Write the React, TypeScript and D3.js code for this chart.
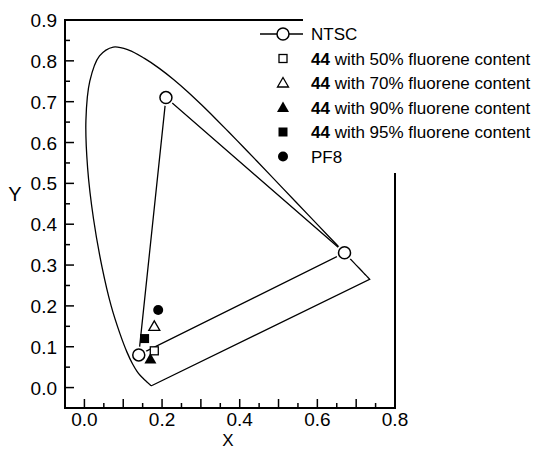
import React, { useEffect } from 'react';
import * as d3 from 'd3';

// CIE 1931 spectral locus, 380-700 nm
const locusX = [0.1741, 0.1740, 0.1738, 0.1736, 0.1733, 0.1730, 0.1726, 0.1721, 0.1714, 0.1703, 0.1689, 0.1669, 0.1644, 0.1611, 0.1566, 0.1510, 0.1440, 0.1355, 0.1241, 0.1096, 0.0913, 0.0687, 0.0454, 0.0235, 0.0082, 0.0039, 0.0139, 0.0389, 0.0743, 0.1142, 0.1547, 0.1929, 0.2296, 0.2658, 0.3016, 0.3373, 0.3731, 0.4087, 0.4441, 0.4788, 0.5125, 0.5448, 0.5752, 0.6029, 0.6270, 0.6482, 0.6658, 0.6801, 0.6915, 0.7006, 0.7079, 0.7140, 0.7190, 0.7230, 0.7260, 0.7283, 0.7300, 0.7311, 0.7320, 0.7327, 0.7334, 0.7347];
const locusY = [0.0050, 0.0050, 0.0049, 0.0049, 0.0048, 0.0048, 0.0048, 0.0048, 0.0051, 0.0058, 0.0069, 0.0086, 0.0109, 0.0138, 0.0177, 0.0227, 0.0297, 0.0399, 0.0578, 0.0868, 0.1327, 0.2007, 0.2950, 0.4127, 0.5384, 0.6548, 0.7502, 0.8120, 0.8338, 0.8262, 0.8059, 0.7816, 0.7543, 0.7243, 0.6923, 0.6589, 0.6245, 0.5896, 0.5547, 0.5202, 0.4866, 0.4544, 0.4242, 0.3965, 0.3725, 0.3514, 0.3340, 0.3197, 0.3083, 0.2993, 0.2920, 0.2859, 0.2809, 0.2770, 0.2740, 0.2717, 0.2700, 0.2689, 0.2680, 0.2673, 0.2666, 0.2653];

// NTSC primaries: red, green, blue
const ntscX = [0.67, 0.21, 0.14];
const ntscY = [0.33, 0.71, 0.08];

// measured samples
const sampleNames = ['50', '70', '90', '95', 'PF8'];
const sampleSymbols = ['openSquare', 'openTriangle', 'triangle', 'square', 'circle'];
const sampleX = [0.18, 0.18, 0.17, 0.155, 0.19];
const sampleY = [0.09, 0.15, 0.07, 0.12, 0.19];

const xTicks = [0, 0.1, 0.2, 0.3, 0.4, 0.5, 0.6, 0.7, 0.8];
const xLabels = [0, 0.2, 0.4, 0.6, 0.8];
const yTicks = [0, 0.1, 0.2, 0.3, 0.4, 0.5, 0.6, 0.7, 0.8, 0.9];

const W = 536, H = 450;
const FONT = '"Liberation Sans", Arial, sans-serif';

function Marker({ kind, cx, cy }: { kind: string; cx: number; cy: number }) {
  if (kind === 'openSquare')
    return <rect x={cx - 4} y={cy - 4} width={8} height={8} fill="white" stroke="black" strokeWidth={1.3} />;
  if (kind === 'square')
    return <rect x={cx - 4.5} y={cy - 4.5} width={9} height={9} fill="black" />;
  if (kind === 'openTriangle')
    return <path d={`M${cx},${cy - 5.5}L${cx + 5.5},${cy + 4}L${cx - 5.5},${cy + 4}Z`} fill="white" stroke="black" strokeWidth={1.3} />;
  if (kind === 'triangle')
    return <path d={`M${cx},${cy - 6}L${cx + 6},${cy + 4.5}L${cx - 6},${cy + 4.5}Z`} fill="black" />;
  return <circle cx={cx} cy={cy} r={5} fill="black" />;
}

export default function App() {
  useEffect(() => {
    document.body.style.margin = '0';
  }, []);

  const x = d3.scaleLinear().domain([-0.05, 0.8]).range([65, 395]);
  const y = d3.scaleLinear().domain([-0.05, 0.9]).range([408, 20]);

  const locus = locusX.map((v, i) => [v, locusY[i]] as [number, number]);
  const line = d3.line<[number, number]>().x(d => x(d[0])).y(d => y(d[1])).curve(d3.curveCatmullRom);
  const locusPath = line(locus) + `L${x(locusX[0])},${y(locusY[0])}`;

  const ntsc = ntscX.map((v, i) => [x(v), y(ntscY[i])]);
  const triPath = `M${ntsc[0][0]},${ntsc[0][1]}L${ntsc[1][0]},${ntsc[1][1]}L${ntsc[2][0]},${ntsc[2][1]}Z`;

  const minorX = d3.range(0, 17).map(i => -0.05 + i * 0.05).filter(v => v > -0.049 && v < 0.799 && Math.abs(Math.round(v * 10) - v * 10) > 0.1);
  const minorY = d3.range(0, 19).map(i => -0.05 + i * 0.05).filter(v => v > -0.049 && v < 0.899 && Math.abs(Math.round(v * 10) - v * 10) > 0.1);

  const legendTop = 34, legendStep = 24.5, symX = 283, textX = 311;

  return (
    <svg width={W} height={H} style={{ display: 'block', background: 'white' }} fontFamily={FONT}>
      {/* locus and NTSC triangle */}
      <path d={locusPath} fill="none" stroke="black" strokeWidth={1.3} />
      <path d={triPath} fill="none" stroke="black" strokeWidth={1.3} />
      {ntsc.map((p, i) => (
        <g key={i}>
          <circle cx={p[0]} cy={p[1]} r={8.5} fill="white" />
          <circle cx={p[0]} cy={p[1]} r={6} fill="white" stroke="black" strokeWidth={1.5} />
        </g>
      ))}
      {sampleX.map((v, i) => (
        <Marker key={sampleNames[i]} kind={sampleSymbols[i]} cx={x(v)} cy={y(sampleY[i])} />
      ))}

      {/* frame */}
      <rect x={x(-0.05)} y={y(0.9)} width={x(0.8) - x(-0.05)} height={y(-0.05) - y(0.9)} fill="none" stroke="black" strokeWidth={2} />

      {/* ticks */}
      {xTicks.map(t => (
        <line key={'xt' + t} x1={x(t)} x2={x(t)} y1={y(-0.05)} y2={y(-0.05) - 9} stroke="black" strokeWidth={1.5} />
      ))}
      {minorX.map(t => (
        <line key={'xm' + t} x1={x(t)} x2={x(t)} y1={y(-0.05)} y2={y(-0.05) - 5} stroke="black" strokeWidth={1.5} />
      ))}
      {yTicks.map(t => (
        <line key={'yt' + t} x1={x(-0.05)} x2={x(-0.05) + 9} y1={y(t)} y2={y(t)} stroke="black" strokeWidth={1.5} />
      ))}
      {minorY.map(t => (
        <line key={'ym' + t} x1={x(-0.05)} x2={x(-0.05) + 5} y1={y(t)} y2={y(t)} stroke="black" strokeWidth={1.5} />
      ))}
      {xLabels.map(t => (
        <text key={'xl' + t} x={x(t)} y={426} textAnchor="middle" fontSize={19}>{d3.format('.1f')(t)}</text>
      ))}
      {yTicks.map(t => (
        <text key={'yl' + t} x={57} y={y(t) + 7} textAnchor="end" fontSize={19}>{d3.format('.1f')(t)}</text>
      ))}
      <text x={228} y={446} textAnchor="middle" fontSize={17}>X</text>
      <text x={15} y={201} textAnchor="middle" fontSize={20}>Y</text>

      {/* legend */}
      <rect x={303} y={0} width={W - 303} height={173} fill="white" />
      <line x1={260} x2={303} y1={legendTop} y2={legendTop} stroke="black" strokeWidth={1.3} />
      <circle cx={symX} cy={legendTop} r={6} fill="white" stroke="black" strokeWidth={1.5} />
      <text x={textX} y={legendTop + 6} fontSize={17}>NTSC</text>
      {sampleNames.map((n, i) => {
        const cy = legendTop + legendStep * (i + 1);
        return (
          <g key={'lg' + n}>
            <Marker kind={sampleSymbols[i]} cx={symX} cy={cy} />
            {n === 'PF8' ? (
              <text x={textX} y={cy + 6} fontSize={17}>PF8</text>
            ) : (
              <text x={textX} y={cy + 6} fontSize={17}>
                <tspan fontWeight="bold">44</tspan> with {n}% fluorene content
              </text>
            )}
          </g>
        );
      })}
    </svg>
  );
}
